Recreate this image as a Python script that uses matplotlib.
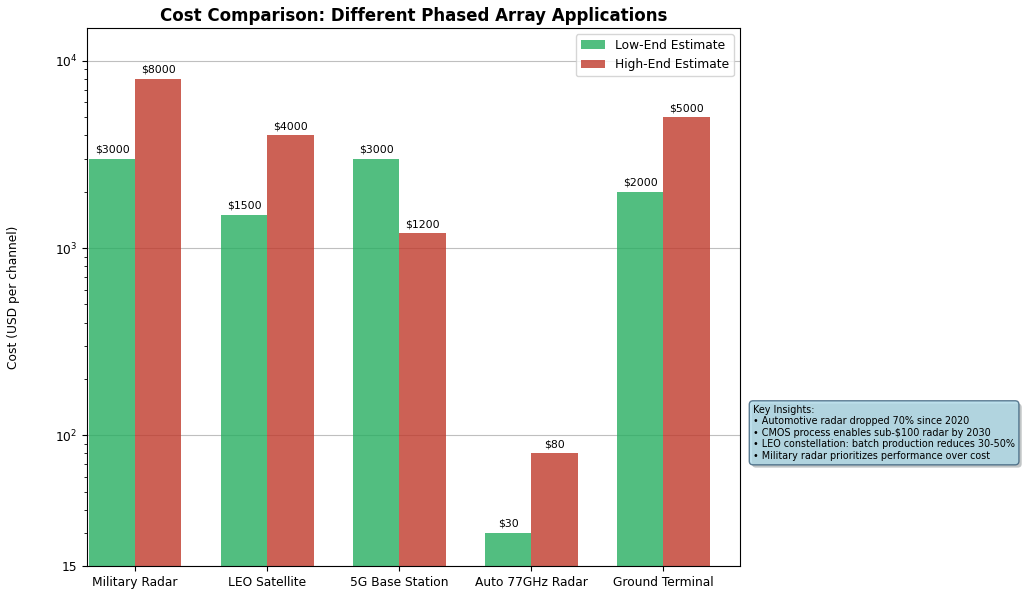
import numpy as np
import matplotlib.pyplot as plt
import matplotlib.patheffects as pe

# =========================================================
# DATA
# =========================================================

applications = ["Military Radar", "LEO Satellite", "5G Base Station",
                "Auto 77GHz Radar", "Ground Terminal"]

low_end = [3000, 1500, 3000, 30, 2000]
high_end = [8000, 4000, 1200, 80, 5000]

y_ticks = [20, 100, 1000, 10000]
y_tick_labels = ["15", "$10^{2}$", "$10^{3}$", "$10^{4}$"]

insights = [
    "Key Insights:",
    "\u2022 Automotive radar dropped 70% since 2020",
    "\u2022 CMOS process enables sub-$100 radar by 2030",
    "\u2022 LEO constellation: batch production reduces 30-50%",
    "\u2022 Military radar prioritizes performance over cost",
]

# =========================================================
# PLOT
# =========================================================

fig = plt.figure(figsize=(10.24, 5.95), dpi=100)
ax = fig.add_axes([0.085, 0.0487, 0.6377, 0.9043])

x = np.arange(len(applications))
width = 0.35

bars_low = ax.bar(x - width / 2, low_end, width, color="#27ae60", alpha=0.8,
                  label="Low-End Estimate")
bars_high = ax.bar(x + width / 2, high_end, width, color="#c0392b", alpha=0.8,
                   label="High-End Estimate")

for bars in (bars_low, bars_high):
    for b in bars:
        h = b.get_height()
        ax.annotate(f"${h:.0f}", (b.get_x() + b.get_width() / 2, h),
                    xytext=(0, 3), textcoords="offset points",
                    ha="center", va="bottom", fontsize=7.8)

ax.set_yscale("log")
ax.set_ylim(20, 15000)
ax.set_xlim(-0.365, 4.58)
ax.set_yticks(y_ticks, y_tick_labels, fontsize=8.8)
ax.set_xticks(x, applications, fontsize=8.8)

ax.set_ylabel("Cost (USD per channel)", fontsize=8.8)
ax.yaxis.set_label_coords(-0.103, 0.5)
ax.set_title("Cost Comparison: Different Phased Array Applications",
             fontsize=12, fontweight="bold", pad=5)

ax.yaxis.grid(True, which="major", color="#b0b0b0", alpha=0.8)
ax.set_axisbelow(True)

ax.legend(loc="upper right", fontsize=8.8)

t = ax.text(1.02, 0.3, "\n".join(insights), transform=ax.transAxes,
            fontsize=6.9, va="top", ha="left", linespacing=1.2,
            bbox=dict(boxstyle="round,pad=0.4", facecolor="lightblue",
                      edgecolor="#3a5f7a", alpha=0.8))
t.get_bbox_patch().set_path_effects([pe.SimplePatchShadow(offset=(2, -2)),
                                     pe.Normal()])

fig.savefig("out.png", dpi=100)
